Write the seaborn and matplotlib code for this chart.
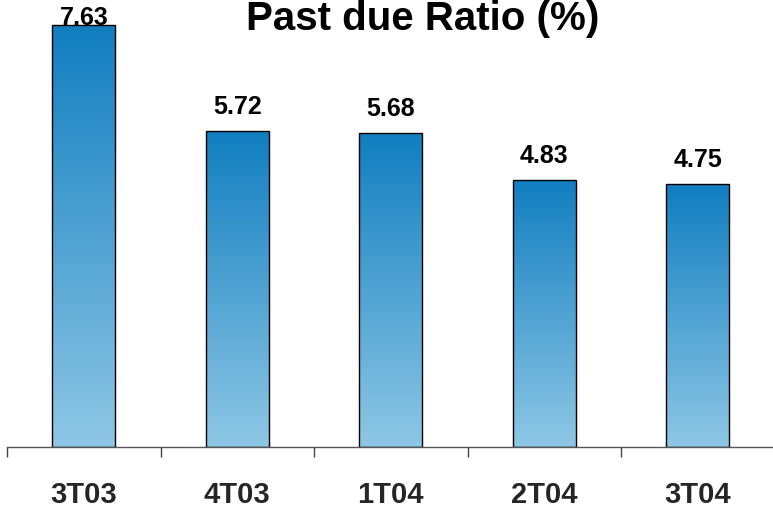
import numpy as np
import pandas as pd
import matplotlib
matplotlib.use("Agg")
import matplotlib.pyplot as plt
from matplotlib.colors import LinearSegmentedColormap
import seaborn as sns

quarters = ["3T03", "4T03", "1T04", "2T04", "3T04"]
ratios = [7.63, 5.72, 5.68, 4.83, 4.75]

df = pd.DataFrame({"quarter": quarters, "ratio": ratios})

sns.set_style("white")
plt.rcParams["font.family"] = ["Liberation Sans", "DejaVu Sans"]

fig = plt.figure(figsize=(7.73, 5.10), dpi=100)
ax = fig.add_axes([7 / 773, 1 - 448 / 510, 1 - 7 / 773, 448 / 510])

sns.barplot(data=df, x="quarter", y="ratio", width=0.41, color="#117ec0",
            edgecolor="black", linewidth=1.0, ax=ax)

# vertical gradient in each bar: dark blue top -> light blue bottom
cmap = LinearSegmentedColormap.from_list("bar", ["#8ec7e5", "#117ec0"])
grad = np.linspace(0, 1, 256).reshape(-1, 1)
for p in ax.patches:
    x0, y0 = p.get_x(), p.get_y()
    w, h = p.get_width(), p.get_height()
    im = ax.imshow(grad, cmap=cmap, origin="lower", aspect="auto",
                   extent=[x0, x0 + w, y0, y0 + h], zorder=1)
    im.set_clip_path(p)
    p.set_facecolor("none")
    p.set_zorder(2)

ax.set_xlim(-0.5, 4.49)
ax.set_ylim(0, 8.10)

for i, v in enumerate(ratios):
    ax.text(i, min(v + 0.325, 7.65), f"{v:.2f}", ha="center", va="baseline",
            fontsize=18, fontweight="bold", color="black", zorder=3)

ax.set_xlabel("")
ax.set_ylabel("")
ax.set_yticks([])
ax.set_xticks(range(len(quarters)))
ax.set_xticklabels(quarters, fontsize=21, fontweight="bold")
ax.set_xticks(np.arange(-0.5, 4.0, 1.0), minor=True)
ax.tick_params(axis="x", which="major", length=0, pad=24)
ax.tick_params(axis="x", which="minor", length=7, width=1, direction="out",
               color="#444444", bottom=True)

for s in ["top", "right", "left"]:
    ax.spines[s].set_visible(False)
ax.spines["bottom"].set_color("#555555")
ax.spines["bottom"].set_linewidth(1.0)

fig.text(423 / 773, 1 - 30 / 510, "Past due Ratio (%)", ha="center",
         va="baseline", fontsize=29, fontweight="bold", color="black")

fig.savefig("out.png", dpi=100)
